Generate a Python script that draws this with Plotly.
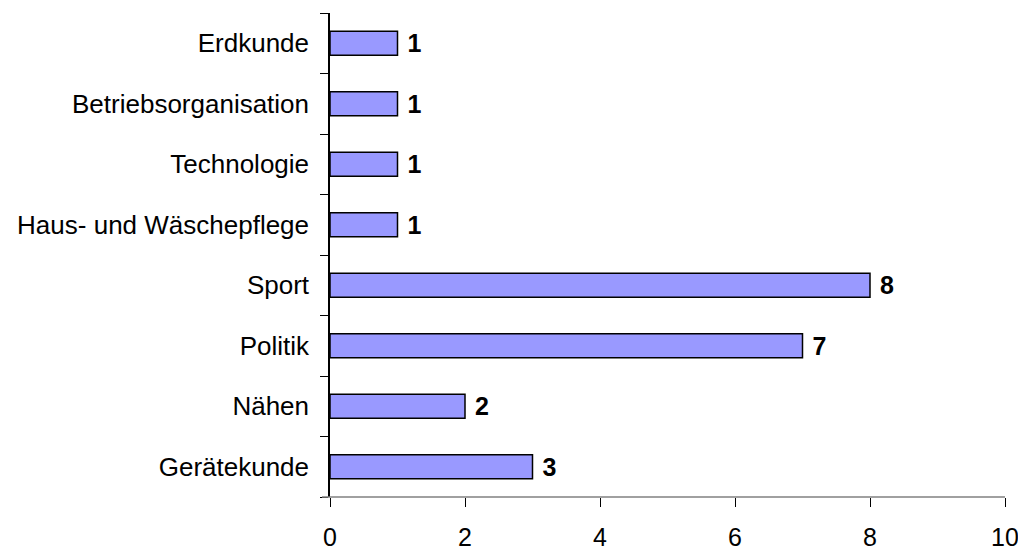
import plotly.graph_objects as go

categories = ["Gerätekunde", "Nähen", "Politik", "Sport",
              "Haus- und Wäschepflege", "Technologie", "Betriebsorganisation", "Erdkunde"]
values = [3, 2, 7, 8, 1, 1, 1, 1]
x_ticks = [0, 2, 4, 6, 8, 10]

fig = go.Figure()

fig.add_trace(go.Bar(
    y=categories,
    x=values,
    orientation="h",
    width=0.4,
    marker=dict(color="#9999FF", line=dict(color="black", width=1.5)),
    text=[" " + str(v) for v in values],
    textposition="outside",
    constraintext="none",
    textfont=dict(family="Liberation Sans, Arial", size=25, color="black", weight="bold"),
    cliponaxis=False,
    hoverinfo="none",
))

# axis line extends left past the y axis, as in the original
fig.add_shape(type="line", xref="paper", yref="paper",
              x0=-8 / 675, x1=1, y0=0, y1=0,
              line=dict(color="#808080", width=1.5))

# page body has an 8px margin, so the figure is a bit smaller than the window
fig.update_layout(
    width=1018,
    height=545,
    margin=dict(l=322, r=21, t=5, b=56),
    plot_bgcolor="white",
    paper_bgcolor="white",
    showlegend=False,
    font=dict(family="Liberation Sans, Arial", color="black"),
    xaxis=dict(
        range=[0, 10],
        tickvals=x_ticks,
        ticktext=[str(t) for t in x_ticks],
        showgrid=False,
        zeroline=False,
        showline=False,
        ticks="outside",
        ticklen=9,
        tickcolor="black",
        tickfont=dict(size=25),
        ticklabelstandoff=9,
        automargin=False,
        fixedrange=True,
    ),
    yaxis=dict(
        categoryorder="array",
        categoryarray=categories,
        showgrid=False,
        zeroline=False,
        showline=True,
        linecolor="black",
        linewidth=1.5,
        ticks="outside",
        tickson="boundaries",
        ticklen=8,
        tickcolor="black",
        tickfont=dict(size=26),
        ticklabelstandoff=14,
        automargin=False,
        fixedrange=True,
    ),
)

fig.write_html("out.html")
